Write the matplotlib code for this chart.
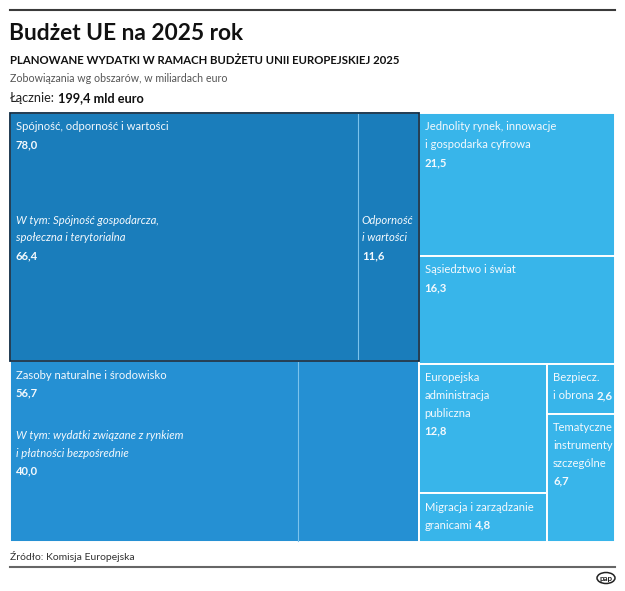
import matplotlib.pyplot as plt
from matplotlib.patches import Rectangle, Ellipse

plt.rcParams["font.family"] = ["Lato", "DejaVu Sans"]

# areas of the EU budget 2025, bln euro
areas = ["spojnosc", "zasoby", "jednolity", "sasiedztwo",
         "administracja", "migracja", "bezpieczenstwo", "tematyczne"]
values = [78.0, 56.7, 21.5, 16.3, 12.8, 4.8, 2.6, 6.7]
value_labels = ["78,0", "56,7", "21,5", "16,3", "12,8", "4,8", "2,6", "6,7"]
labels = [
    ["Spójność, odporność i wartości"],
    ["Zasoby naturalne i środowisko"],
    ["Jednolity rynek, innowacje", "i gospodarka cyfrowa"],
    ["Sąsiedztwo i świat"],
    ["Europejska", "administracja", "publiczna"],
    ["Migracja i zarządzanie", "granicami"],
    ["Bezpiecz.", "i obrona"],
    ["Tematyczne", "instrumenty", "szczególne"],
]
# areas where the value sits on the last label line
inline_value = ["migracja", "bezpieczenstwo"]

# "w tym" parts inside the two big areas
spojnosc_parts = [66.4, 11.6]
spojnosc_part_labels = [["W tym: Spójność gospodarcza,", "społeczna i terytorialna"],
                        ["Odporność", "i wartości"]]
spojnosc_part_values = ["66,4", "11,6"]
zasoby_parts = [40.0, 56.7 - 40.0]
zasoby_part_labels = [["W tym: wydatki związane z rynkiem", "i płatności bezpośrednie"]]
zasoby_part_values = ["40,0"]

total_label = "199,4 mld euro"

# nesting of the treemap: (direction, children); "h" = side by side, "v" = stacked
TREE = ("h", [
    ("v", ["spojnosc", "zasoby"]),
    ("v", [
        ("v", ["jednolity", "sasiedztwo"]),
        ("h", [
            ("v", ["administracja", "migracja"]),
            ("v", ["bezpieczenstwo", "tematyczne"]),
        ]),
    ]),
])

VAL = dict(zip(areas, values))


def node_value(node):
    if isinstance(node, str):
        return VAL[node]
    return sum(node_value(c) for c in node[1])


def layout(node, x, y, w, h, out):
    if isinstance(node, str):
        out[node] = (x, y, w, h)
        return
    direction, children = node
    tot = node_value(node)
    pos = 0.0
    for c in children:
        frac = node_value(c) / tot
        if direction == "h":
            layout(c, x + pos * w, y, frac * w, h, out)
        else:
            layout(c, x, y + pos * h, w, frac * h, out)
        pos += frac


W, H = 625, 591
fig = plt.figure(figsize=(W / 100, H / 100), dpi=100)
ax = fig.add_axes([0, 0, 1, 1])
ax.set_xlim(0, W)
ax.set_ylim(H, 0)
ax.axis("off")

DARK = "#1a7dbb"
MID = "#2590d3"
LIGHT = "#38b5ea"
TXT = "#f4f9fd"
colors = {"spojnosc": DARK, "zasoby": MID}

rects = {}
layout(TREE, 10, 113, 605, 429, rects)

for key in areas:
    x, y, w, h = rects[key]
    ax.add_patch(Rectangle((x, y), w, h, facecolor=colors.get(key, LIGHT),
                           edgecolor="white", lw=1.4, zorder=1))

# inner dividers
x, y, w, h = rects["spojnosc"]
xs = x + w * spojnosc_parts[0] / sum(spojnosc_parts)
ax.plot([xs, xs], [y + 1, y + h - 1], color="#7cc3ec", lw=0.8, zorder=2)
x, y, w, h = rects["zasoby"]
xz = x + w * zasoby_parts[0] / sum(zasoby_parts)
ax.plot([xz, xz], [y + 1, y + h - 1], color="#7cc3ec", lw=0.8, zorder=2)

# dark frame of the biggest area
x, y, w, h = rects["spojnosc"]
ax.add_patch(Rectangle((x, y), w, h, facecolor="none", edgecolor="#0f2c44",
                       lw=1.3, zorder=3))

FS = 8.1
LH = 17.8
fig.canvas.draw()
renderer = fig.canvas.get_renderer()


def put_line(x, y, txt, style="normal", weight="normal", value=None):
    t = ax.text(x, y, txt, fontsize=FS, color=TXT, style=style,
                weight=weight, va="center", ha="left", zorder=5)
    if value is not None:
        bb = t.get_window_extent(renderer).transformed(ax.transData.inverted())
        ax.text(bb.x1 + 2.5, y, value, fontsize=FS + 0.2, color=TXT, weight="bold",
                va="center", ha="left", zorder=5)


def put_block(x, y, lines, value, style="normal", inline=False):
    for i, ln in enumerate(lines):
        last = i == len(lines) - 1
        put_line(x, y + i * LH, ln, style=style,
                 value=value if (inline and last) else None)
    if not inline:
        put_line(x, y + len(lines) * LH, value, weight="bold")


for key, lines, val in zip(areas, labels, value_labels):
    x, y, w, h = rects[key]
    put_block(x + 6, y + 14, lines, val, inline=key in inline_value)

x, y, w, h = rects["spojnosc"]
put_block(x + 6, y + 107, spojnosc_part_labels[0], spojnosc_part_values[0], style="italic")
put_block(xs + 4, y + 107, spojnosc_part_labels[1], spojnosc_part_values[1], style="italic")
x, y, w, h = rects["zasoby"]
put_block(x + 6, y + 74, zasoby_part_labels[0], zasoby_part_values[0], style="italic")

# header
ax.plot([10, 615], [10, 10], color="#3a3a3a", lw=1.5)
ax.text(9, 34, "Budżet UE na 2025 rok", fontsize=16.4, weight="bold",
        color="#111111", va="center", ha="left")
ax.text(10, 61, "PLANOWANE WYDATKI W RAMACH BUDŻETU UNII EUROPEJSKIEJ 2025",
        fontsize=8.2, weight="bold", color="#111111", va="center", ha="left")
ax.text(10, 78, "Zobowiązania wg obszarów, w miliardach euro", fontsize=7.7,
        color="#555555", va="center", ha="left")
t = ax.text(10, 98, "Łącznie:", fontsize=9.2, color="#222222", va="center", ha="left")
bb = t.get_window_extent(renderer).transformed(ax.transData.inverted())
ax.text(bb.x1 + 2.5, 98, total_label, fontsize=9.2, weight="bold", color="#111111",
        va="center", ha="left")

# footer
ax.text(10, 556, "Źródło: Komisja Europejska", fontsize=7.5, color="#333333",
        va="center", ha="left")
ax.plot([10, 615], [567, 567], color="#666666", lw=1.5)
ax.add_patch(Ellipse((606, 578), 18, 11, facecolor="white", edgecolor="#222222", lw=1.1))
ax.text(606, 578, "pap", fontsize=5.8, weight="bold", color="#222222",
        ha="center", va="center")

fig.savefig("out.png", dpi=100)
